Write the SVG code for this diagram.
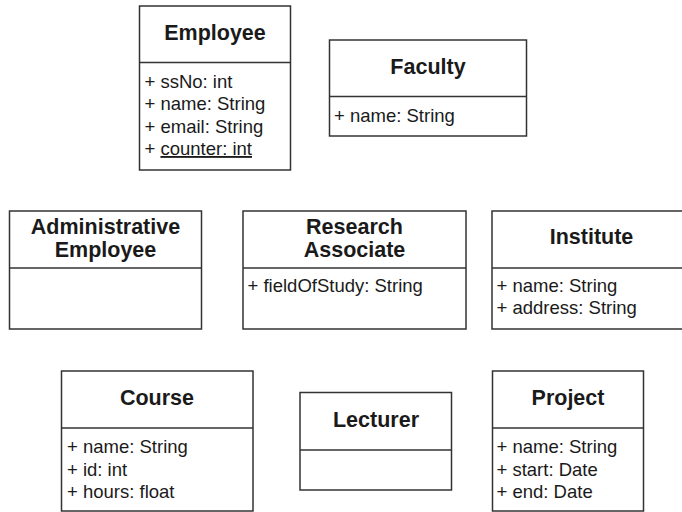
<svg xmlns="http://www.w3.org/2000/svg" width="682" height="512" viewBox="0 0 682 512">
<style>
.box{fill:#fff;stroke:#333;stroke-width:1.5}
.div{stroke:#333;stroke-width:1.5}
.t{font-family:"Liberation Sans",Arial,sans-serif;font-weight:bold;font-size:21.5px;fill:#1a1a1a;text-anchor:middle}
.a{font-family:"Liberation Sans",Arial,sans-serif;font-size:18.5px;fill:#1a1a1a}
</style>
<rect width="682" height="512" fill="#fff"/>
<g id="connectors"/>
<g id="employee">
<rect class="box" x="139.5" y="6" width="151" height="164"/>
<line class="div" x1="139.5" y1="62.5" x2="290.5" y2="62.5"/>
<text class="t" x="215" y="40">Employee</text>
<text class="a" x="144.5" y="87.5">+ ssNo: int</text>
<text class="a" x="144.5" y="110">+ name: String</text>
<text class="a" x="144.5" y="132.5">+ email: String</text>
<text class="a" x="144.5" y="155">+ <tspan text-decoration="underline">counter: int</tspan></text>
</g>
<g id="faculty">
<rect class="box" x="329.5" y="40" width="197" height="96"/>
<line class="div" x1="329.5" y1="96.5" x2="526.5" y2="96.5"/>
<text class="t" x="428" y="73.5">Faculty</text>
<text class="a" x="334" y="121.5">+ name: String</text>
</g>
<g id="administrative-employee">
<rect class="box" x="9.5" y="211" width="192" height="118"/>
<line class="div" x1="9.5" y1="268" x2="201.5" y2="268"/>
<text class="t" x="105.5" y="234">Administrative</text>
<text class="t" x="105.5" y="257">Employee</text>
</g>
<g id="research-associate">
<rect class="box" x="243" y="211" width="223" height="118"/>
<line class="div" x1="243" y1="268" x2="466" y2="268"/>
<text class="t" x="354.5" y="234">Research</text>
<text class="t" x="354.5" y="257">Associate</text>
<text class="a" x="247.5" y="291.5">+ fieldOfStudy: String</text>
</g>
<g id="institute">
<rect class="box" x="492" y="211" width="199" height="118"/>
<line class="div" x1="492" y1="268" x2="691" y2="268"/>
<text class="t" x="591.5" y="244">Institute</text>
<text class="a" x="496.5" y="291.5">+ name: String</text>
<text class="a" x="496.5" y="313.5">+ address: String</text>
</g>
<g id="course">
<rect class="box" x="61.5" y="371" width="191.5" height="140"/>
<line class="div" x1="61.5" y1="428" x2="253" y2="428"/>
<text class="t" x="157" y="405">Course</text>
<text class="a" x="67" y="453">+ name: String</text>
<text class="a" x="67" y="475.5">+ id: int</text>
<text class="a" x="67" y="497.5">+ hours: float</text>
</g>
<g id="lecturer">
<rect class="box" x="300" y="392.5" width="151.5" height="97.5"/>
<line class="div" x1="300" y1="450" x2="451.5" y2="450"/>
<text class="t" x="376" y="426.5">Lecturer</text>
</g>
<g id="project">
<rect class="box" x="492.5" y="371" width="151" height="140"/>
<line class="div" x1="492.5" y1="428" x2="643.5" y2="428"/>
<text class="t" x="568" y="405">Project</text>
<text class="a" x="496.5" y="453">+ name: String</text>
<text class="a" x="496.5" y="475.5">+ start: Date</text>
<text class="a" x="496.5" y="497.5">+ end: Date</text>
</g>
</svg>
